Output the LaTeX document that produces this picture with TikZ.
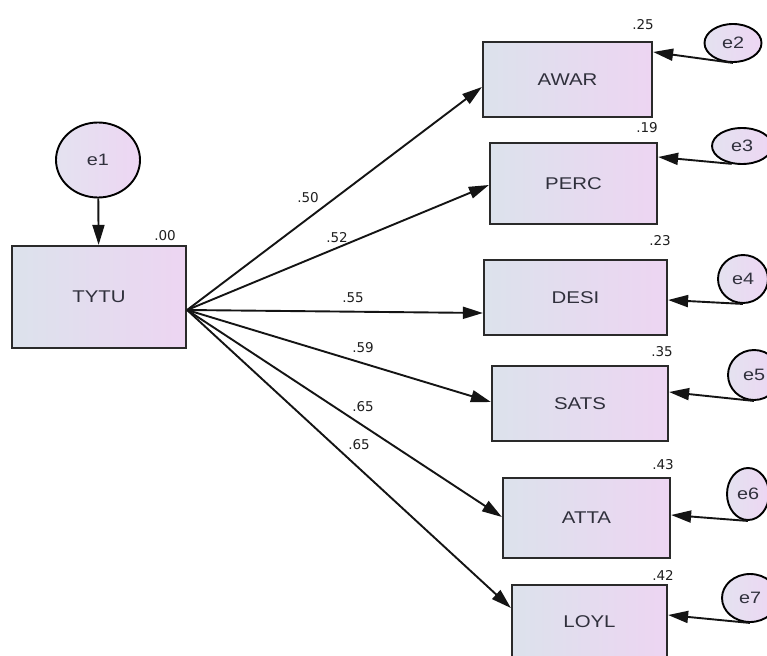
\documentclass[tikz,border=0pt]{standalone}
\usepackage{fontspec}
\setmainfont{Liberation Sans}
\newfontfamily\boxfont[FakeStretch=1.2]{Liberation Sans}
\newfontfamily\coeffont{DejaVu Sans}
\usetikzlibrary{arrows.meta,shapes.geometric,calc}
\definecolor{edgegray}{HTML}{2A2A2A}
\definecolor{fillleft}{HTML}{DCE2EC}
\definecolor{fillright}{HTML}{EDD5F2}
\definecolor{errleft}{HTML}{E4E2F0}
\definecolor{errright}{HTML}{EDD6F3}
\definecolor{txt}{HTML}{30303C}
\begin{document}
\begin{tikzpicture}[x=1pt,y=-1pt,
  obs/.style={rectangle, draw=edgegray, line width=2.2pt,
    left color=fillleft, right color=fillright, inner sep=0pt,
    font=\boxfont\fontsize{17}{17}\selectfont, text=txt},
  err/.style={ellipse, draw=black, line width=1.9pt,
    left color=errleft, right color=errright, inner sep=0pt,
    font=\boxfont\fontsize{16.5}{17}\selectfont, text=txt},
  arr/.style={line width=1.9pt, draw=black!92,
    -{Triangle[length=20pt,width=12pt]}},
  coef/.style={font=\coeffont\fontsize{13.5}{14}\selectfont,
    text=black!88, inner sep=0pt}]

\useasboundingbox (0,0) rectangle (767,655);
\fill[white] (0,0) rectangle (767,655);
\clip (0,0) rectangle (767,655);

% exogenous variable and its disturbance
\node[obs, minimum width=174pt, minimum height=102pt] (TYTU) at (99,297) {TYTU};
\node[err, minimum width=84pt, minimum height=75pt] (e1) at (98,160) {e1};
\node[coef] (r0) at (165,236) {.00};

% observed indicators
\node[obs, minimum width=169pt, minimum height=75pt] (AWAR) at (567.5,79.5) {AWAR};
\node[obs, minimum width=167pt, minimum height=81pt] (PERC) at (573.5,183.5) {PERC};
\node[obs, minimum width=183pt, minimum height=75pt] (DESI) at (575.5,297.5) {DESI};
\node[obs, minimum width=176pt, minimum height=75pt] (SATS) at (580,403.5) {SATS};
\node[obs, minimum width=167pt, minimum height=80pt] (ATTA) at (586.5,518) {ATTA};
\node[obs, minimum width=155pt, minimum height=74pt] (LOYL) at (589.5,622) {LOYL};

% squared multiple correlations
\node[coef] (r2) at (643,25) {.25};
\node[coef] (r3) at (647,128) {.19};
\node[coef] (r4) at (660,241) {.23};
\node[coef] (r5) at (662,352) {.35};
\node[coef] (r6) at (663,465) {.43};
\node[coef] (r7) at (663,575) {.42};

% error terms
\node[err, minimum width=57pt, minimum height=38pt] (e2) at (733,43) {e2};
\node[err, minimum width=60pt, minimum height=36pt] (e3) at (742,146) {e3};
\node[err, minimum width=50pt, minimum height=48pt] (e4) at (743,279) {e4};
\node[err, minimum width=52pt, minimum height=50pt] (e5) at (754,375) {e5};
\node[err, minimum width=42pt, minimum height=52pt] (e6) at (748,494) {e6};
\node[err, minimum width=56pt, minimum height=48pt] (e7) at (750,598) {e7};

% common origin of the loadings on the right side of TYTU
\coordinate (src) at (TYTU.east |- 0,310);

\draw[arr] (e1) -- (TYTU);

\draw[arr] (src) -- (AWAR.west |- 0,87);
\draw[arr] (src) -- (PERC.west |- 0,185);
\draw[arr] (src) -- (DESI.west |- 0,313);
\draw[arr] (src) -- (SATS.west |- 0,402);
\draw[arr] (src) -- (ATTA.west |- 0,517);
\draw[arr] (src) -- (LOYL.west |- 0,608);

\draw[arr] (e2.south) -- (AWAR.east |- 0,52);
\draw[arr] (e3.240) -- (PERC.east |- 0,157);
\draw[arr] (e4.south) -- (DESI.east |- 0,300);
\draw[arr] (e5.south) -- (SATS.east |- 0,392);
\draw[arr] (e6.south) -- (ATTA.east |- 0,515);
\draw[arr] (e7.south) -- (LOYL.east |- 0,615);

% standardized loadings
\node[coef] (l2) at (308,198) {.50};
\node[coef] (l3) at (337,238) {.52};
\node[coef] (l4) at (353,298) {.55};
\node[coef] (l5) at (363,348) {.59};
\node[coef] (l6) at (363,407) {.65};
\node[coef] (l7) at (359,445) {.65};
\end{tikzpicture}
\end{document}
